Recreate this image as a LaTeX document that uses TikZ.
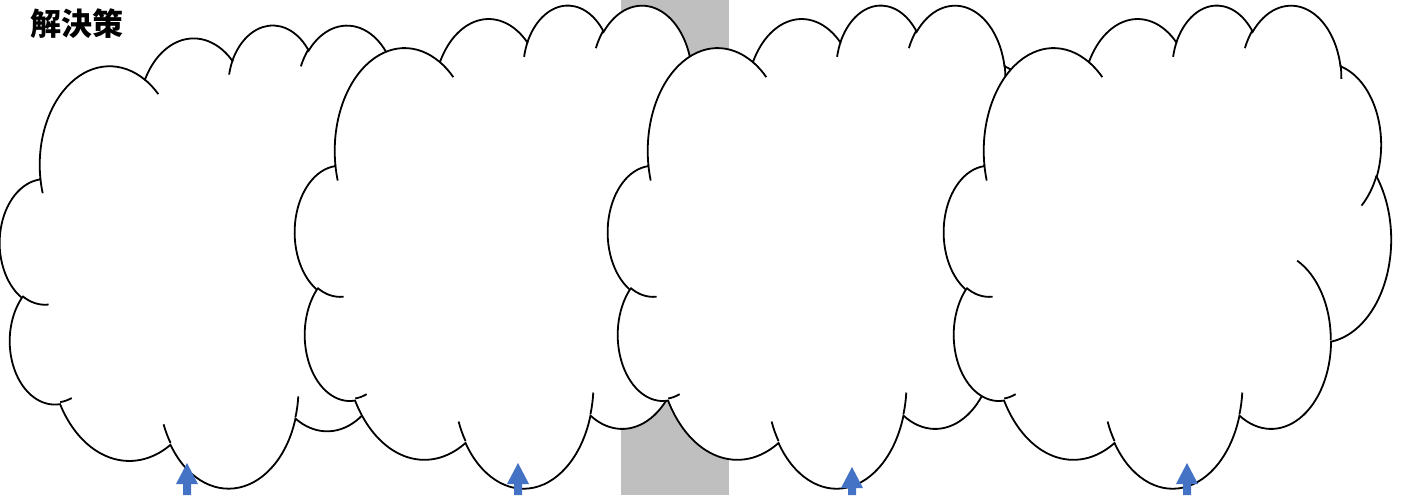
\documentclass[tikz,border=0pt]{standalone}
\usepackage{fontspec}
\newfontfamily\cjk{Noto Sans CJK JP}
\definecolor{arrowblue}{HTML}{4472C4}
\definecolor{bargray}{HTML}{BFBFBF}
% ---- cloud outline (OOXML preset "cloud"), computed as Bezier segments in a 0..100 box
\newcommand\cldacc{}
\newcommand\cldpx{0}
\newcommand\cldpy{0}
\newcommand\cldseg[4]{% cx cy ta tb (radii in \cldrx \cldry)
  \pgfmathsetmacro\cldk{4/3*tan(((#4)-(#3))/4)}%
  \pgfmathsetmacro\cldax{(#1)+\cldrx*cos(#3)-\cldk*\cldrx*sin(#3)}%
  \pgfmathsetmacro\clday{(#2)+\cldry*sin(#3)+\cldk*\cldry*cos(#3)}%
  \pgfmathsetmacro\cldbx{(#1)+\cldrx*cos(#4)+\cldk*\cldrx*sin(#4)}%
  \pgfmathsetmacro\cldby{(#2)+\cldry*sin(#4)-\cldk*\cldry*cos(#4)}%
  \pgfmathsetmacro\cldex{(#1)+\cldrx*cos(#4)}%
  \pgfmathsetmacro\cldey{(#2)+\cldry*sin(#4)}%
  \xdef\cldacc{\cldacc .. controls (\cldax,\clday) and (\cldbx,\cldby) .. (\cldex,\cldey)}%
  \xdef\cldpx{\cldex}\xdef\cldpy{\cldey}%
}
\newcommand\cldarc[4]{% wR hR stAng swAng (degrees), from current point
  \pgfmathsetmacro\cldrx{(#1)/432}%
  \pgfmathsetmacro\cldry{(#2)/432}%
  \pgfmathsetmacro\cldtA{atan2((#1)*sin(#3),(#2)*cos(#3))}%
  \pgfmathsetmacro\cldtB{atan2((#1)*sin((#3)+(#4)),(#2)*cos((#3)+(#4)))}%
  \pgfmathsetmacro\cldtD{mod(\cldtB-\cldtA+720,360)}%
  \pgfmathsetmacro\cldtM{\cldtA+\cldtD/2}%
  \pgfmathsetmacro\cldtE{\cldtA+\cldtD}%
  \pgfmathsetmacro\cldcx{\cldpx-\cldrx*cos(\cldtA)}%
  \pgfmathsetmacro\cldcy{\cldpy-\cldry*sin(\cldtA)}%
  \edef\cldargs{{\cldcx}{\cldcy}{\cldtA}{\cldtM}}\expandafter\cldseg\cldargs
  \edef\cldargs{{\cldcx}{\cldcy}{\cldtM}{\cldtE}}\expandafter\cldseg\cldargs
}
\newcommand\cldmove[2]{% point already in 0..100 units
  \xdef\cldpx{#1}\xdef\cldpy{#2}%
  \xdef\cldacc{\cldacc (\cldpx,\cldpy)}}
% main outline
\cldmove{9.02778}{33.26389}
\cldarc{6753}{9190}{-190.48748}{123.78053}
\cldarc{5333}{7267}{-144.10238}{89.94523}
\cldarc{4365}{5945}{-145.80792}{99.72302}
\cldarc{4857}{6595}{-130.98607}{117.24173}
\cldarc{5333}{7273}{-78.70888}{109.02692}
\cldarc{6775}{9220}{-46.26725}{130.269}
\cldarc{5785}{7867}{0.62502}{114.03333}
\cldarc{6752}{9215}{22.4516}{115.17255}
\cldarc{7720}{10543}{66.24263}{75.71102}
\cldarc{4360}{5918}{-274.94208}{146.73557}
\cldarc{4345}{5945}{-246.8285}{152.51885}
\global\let\cldmain\cldacc
% inner hint arcs
\gdef\cldacc{}
\cldmove{10.8634}{60.5949}\cldarc{4345}{5945}{86.742}{26.4295}
\cldmove{16.0370}{80.7847}\cldarc{4360}{5918}{73.61047}{11.44747}
\cldmove{38.1435}{90.4861}\cldarc{6752}{9215}{137.62415}{14.0811}
\cldmove{66.7292}{80.4421}\cldarc{6752}{9215}{6.45327}{15.99835}
\cldmove{79.0023}{53.1343}\cldarc{5785}{7867}{-70.29235}{70.91737}
\cldmove{96.7546}{35.5417}\cldarc{5333}{7273}{30.31803}{27.7515}
\cldmove{88.7130}{12.5602}\cldarc{4857}{6595}{-13.74433}{14.8589}
\cldmove{67.3102}{9.1481}\cldarc{4857}{6595}{-149.18145}{18.19537}
\cldmove{51.2523}{10.9259}\cldarc{4365}{5945}{-163.49427}{17.68635}
\cldmove{32.4074}{12.0185}\cldarc{6753}{9190}{-66.70695}{12.31935}
\cldmove{9.5532}{36.5486}\cldarc{6753}{9190}{157.65435}{11.85817}
\global\let\cldhints\cldacc
\newcommand\drawcloud[4]{%
  \begin{scope}[shift={(#1,#2)},xscale=#3/100,yscale=#4/100]
    \filldraw[cloudline,fill=white] \cldmain -- cycle;
    \draw[cloudline] \cldhints;
  \end{scope}}
\newcommand\uparrowat[2]{%
  \fill[blockarrow] (#1,#2) -- ++(11,21) -- ++(-7,0) -- (#1+4,495) -- (#1-4,495) -- (#1-4,#2+21) -- ++(-7,0) -- cycle;}
\begin{document}
\begin{tikzpicture}[x=1pt,y=1pt,yscale=-1,
  cloudline/.style={draw=black,line width=1.8pt},
  blockarrow/.style={fill=arrowblue}]
\useasboundingbox (0,0) rectangle (1404,495);
\fill[bargray] (621,0) rectangle (729,495);
\drawcloud{0}{24}{447}{463}
\drawcloud{295}{4}{447}{483}
\drawcloud{608}{4}{447}{483}
\drawcloud{944}{4}{447}{483}
\uparrowat{187}{463}
\uparrowat{518}{463}
\uparrowat{852}{467}
\uparrowat{1187}{463}
\node[inner sep=0pt,font=\cjk\bfseries\fontsize{31}{31}\selectfont] (title) at (76.5,24) {解決策};
\end{tikzpicture}
\end{document}
